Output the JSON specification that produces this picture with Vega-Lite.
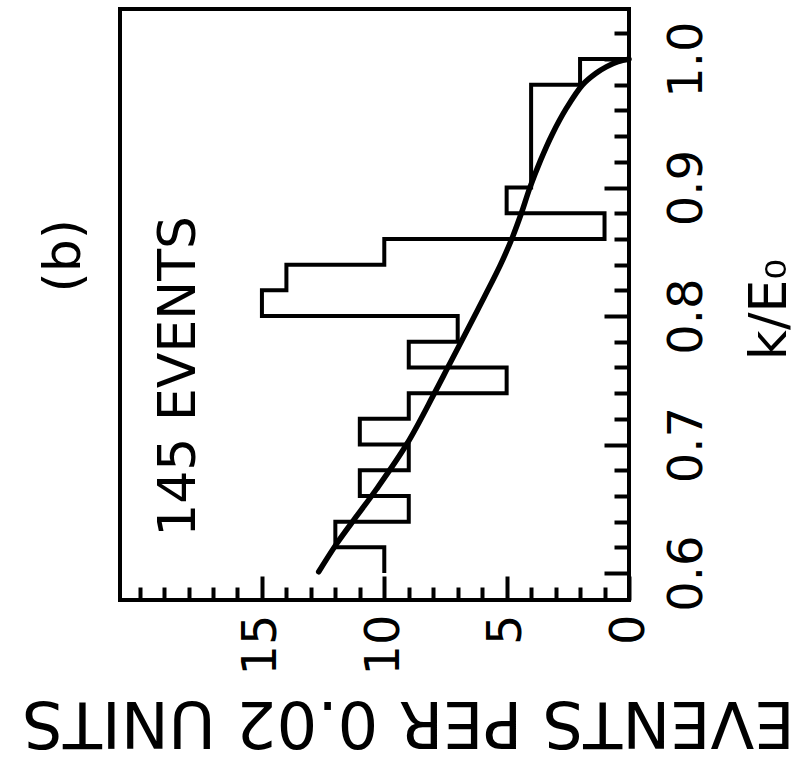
{
  "$schema": "https://vega.github.io/schema/vega-lite/v6.json",
  "width": 509,
  "height": 591,
  "autosize": {"type": "none"},
  "padding": {"left": 120, "top": 9, "right": 180, "bottom": 165},
  "background": "white",
  "config": {
    "view": {"stroke": "black", "strokeWidth": 4},
    "font": "DejaVu Sans",
    "axis": {"labelFont": "DejaVu Sans", "titleFont": "DejaVu Sans", "labelColor": "black", "titleColor": "black"}
  },
  "datasets": {
    "hist": [
      {"k": 0.60, "events": 10}, {"k": 0.62, "events": 12}, {"k": 0.64, "events": 9},
      {"k": 0.66, "events": 11}, {"k": 0.68, "events": 9}, {"k": 0.70, "events": 11},
      {"k": 0.72, "events": 9}, {"k": 0.74, "events": 5}, {"k": 0.76, "events": 9},
      {"k": 0.78, "events": 7}, {"k": 0.80, "events": 15}, {"k": 0.82, "events": 14},
      {"k": 0.84, "events": 10}, {"k": 0.86, "events": 1}, {"k": 0.88, "events": 5},
      {"k": 0.90, "events": 4}, {"k": 0.92, "events": 4}, {"k": 0.94, "events": 4},
      {"k": 0.96, "events": 4}, {"k": 0.98, "events": 2}, {"k": 1.00, "events": 0}
    ],
    "curve": [
      {"k": 0.601, "events": 12.68}, {"k": 0.623, "events": 11.94}, {"k": 0.645, "events": 11.1},
      {"k": 0.665, "events": 10.33}, {"k": 0.701, "events": 9.06}, {"k": 0.740, "events": 7.95},
      {"k": 0.7605, "events": 7.39}, {"k": 0.805, "events": 6.18}, {"k": 0.840, "events": 5.25},
      {"k": 0.862, "events": 4.75}, {"k": 0.880, "events": 4.40}, {"k": 0.900, "events": 4.05},
      {"k": 0.921, "events": 3.62}, {"k": 0.941, "events": 3.15}, {"k": 0.962, "events": 2.55},
      {"k": 0.980, "events": 1.9}, {"k": 0.989, "events": 1.35}, {"k": 0.994, "events": 0.93},
      {"k": 0.998, "events": 0.45}, {"k": 1.0, "events": 0}
    ],
    "notes": [
      {"text": "145 EVENTS", "events": 18.4, "k": 0.753},
      {"text": "(b)", "events": 23.1, "k": 0.847}
    ]
  },
  "encoding": {
    "x": {
      "field": "events", "type": "quantitative",
      "scale": {"domain": [0, 20.8], "reverse": true, "nice": false, "zero": false},
      "axis": {
        "orient": "bottom",
        "title": "EVENTS PER 0.02 UNITS",
        "values": [0,1,2,3,4,5,6,7,8,9,10,11,12,13,14,15,16,17,18,19,20],
        "domain": false, "grid": false,
        "tickColor": "black", "tickWidth": 4,
        "tickSize": {"condition": {"test": "datum.value % 5 === 0 && datum.value < 20", "value": -24}, "value": -13},
        "labelExpr": "datum.value % 5 === 0 && datum.value < 20 ? datum.label : ''",
        "labelAngle": 270, "labelAlign": "right", "labelBaseline": "middle",
        "labelFontSize": 48, "labelPadding": 38,
        "labelOverlap": false, "labelFlush": false, "labelBound": false,
        "titleFontSize": 64, "titleFontWeight": "normal", "titleAngle": 180,
        "titleX": 288, "titleY": 120, "titleAlign": "center", "titleBaseline": "middle"
      }
    },
    "y": {
      "field": "k", "type": "quantitative",
      "scale": {"domain": [0.579, 1.039], "nice": false, "zero": false},
      "axis": {
        "orient": "right",
        "title": "k/E₀",
        "values": [0.6,0.62,0.64,0.66,0.68,0.7,0.72,0.74,0.76,0.78,0.8,0.82,0.84,0.86,0.88,0.9,0.92,0.94,0.96,0.98,1.0,1.02],
        "domain": false, "grid": false,
        "tickColor": "black", "tickWidth": 4,
        "tickSize": {"condition": {"test": "abs(datum.value*10 - round(datum.value*10)) < 0.001", "value": -25}, "value": -15},
        "labelExpr": "abs(datum.value*10 - round(datum.value*10)) < 0.001 ? format(datum.value, '.1f') : ''",
        "labelAngle": 270, "labelAlign": "center", "labelBaseline": "top",
        "labelFontSize": 48, "labelPadding": 59,
        "labelOverlap": false, "labelFlush": false, "labelBound": false,
        "titleFontSize": 52, "titleFontWeight": "normal", "titleAngle": 270,
        "titleX": 140, "titleY": 300, "titleAlign": "center", "titleBaseline": "middle"
      }
    }
  },
  "layer": [
    {
      "data": {"name": "hist"},
      "mark": {"type": "line", "interpolate": "step-before", "color": "black", "strokeWidth": 4, "strokeJoin": "miter", "strokeCap": "butt"},
      "encoding": {"order": {"field": "k", "type": "quantitative"}}
    },
    {
      "data": {"name": "curve"},
      "mark": {"type": "line", "interpolate": "catmull-rom", "color": "black", "strokeWidth": 5.5, "strokeCap": "round"},
      "encoding": {"order": {"field": "k", "type": "quantitative"}}
    },
    {
      "data": {"name": "notes"},
      "mark": {"type": "text", "angle": 270, "fontSize": 52, "font": "DejaVu Sans", "color": "black", "align": "center", "baseline": "middle"},
      "encoding": {"text": {"field": "text", "type": "nominal"}}
    }
  ]
}
